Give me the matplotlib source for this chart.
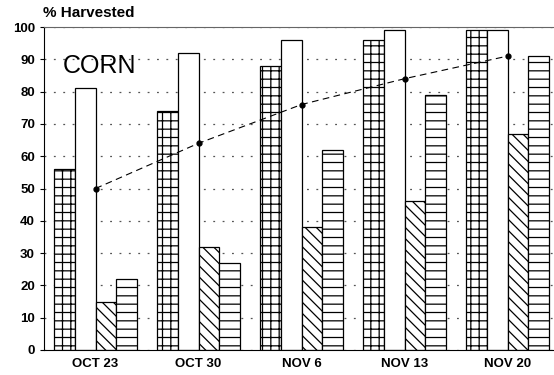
import numpy as np
import matplotlib.pyplot as plt

# Corn harvest progress, % harvested by week
weeks = ['OCT 23', 'OCT 30', 'NOV 6', 'NOV 13', 'NOV 20']
series_a = [56, 74, 88, 96, 99]   # crosshatch bars
series_b = [81, 92, 96, 99, 99]   # open bars
series_c = [15, 32, 38, 46, 67]   # diagonal bars
series_d = [22, 27, 62, 79, 91]   # horizontal-line bars
average = [50, 64, 76, 84, 91]    # dashed line
y_ticks = [0, 10, 20, 30, 40, 50, 60, 70, 80, 90, 100]

plt.rcParams['font.family'] = ['Liberation Sans', 'DejaVu Sans']
plt.rcParams['hatch.linewidth'] = 0.9

fig = plt.figure(figsize=(5.54, 3.75), dpi=100)
ax = fig.add_axes([44 / 554, 25 / 375, 1 - 44 / 554, 323 / 375])

x = np.arange(len(weeks))
w = 0.2
styles = [(series_a, '++', 'white'), (series_b, '', 'white'),
          (series_c, '\\\\\\', 'white'), (series_d, '--', 'white')]
for i, (vals, hatch, fc) in enumerate(styles):
    ax.bar(x + (i - 1.5) * w, vals, w, facecolor=fc, edgecolor='black',
           hatch=hatch, linewidth=0.9, zorder=2)

ax.plot(x, average, color='black', linestyle=(0, (6, 4)), linewidth=0.8,
        marker='o', markersize=3.5, zorder=3)

ax.set_xlim(-0.5, 4.45)
ax.set_ylim(0, 100)
ax.set_yticks(y_ticks)
ax.set_xticks(x)
ax.set_xticklabels(weeks, fontsize=9.5, fontweight='bold')
ax.tick_params(axis='x', length=0, pad=6)
ax.tick_params(axis='y', labelsize=9.5, length=3, width=0.8)
for lbl in ax.get_yticklabels():
    lbl.set_fontweight('bold')

ax.yaxis.grid(True, linestyle=(0, (1.5, 6)), color='#555555', linewidth=0.9, zorder=0)
ax.set_axisbelow(True)
ax.spines['right'].set_visible(False)
ax.spines['top'].set_color('#666666')
ax.spines['top'].set_linewidth(0.8)

ax.text(-0.32, 88, 'CORN', fontsize=18, ha='left', va='center', zorder=4)
fig.text(43 / 554, 1 - 13 / 375, '% Harvested', fontsize=11, fontweight='bold',
         ha='left', va='center')

fig.savefig('out.png', dpi=100)
